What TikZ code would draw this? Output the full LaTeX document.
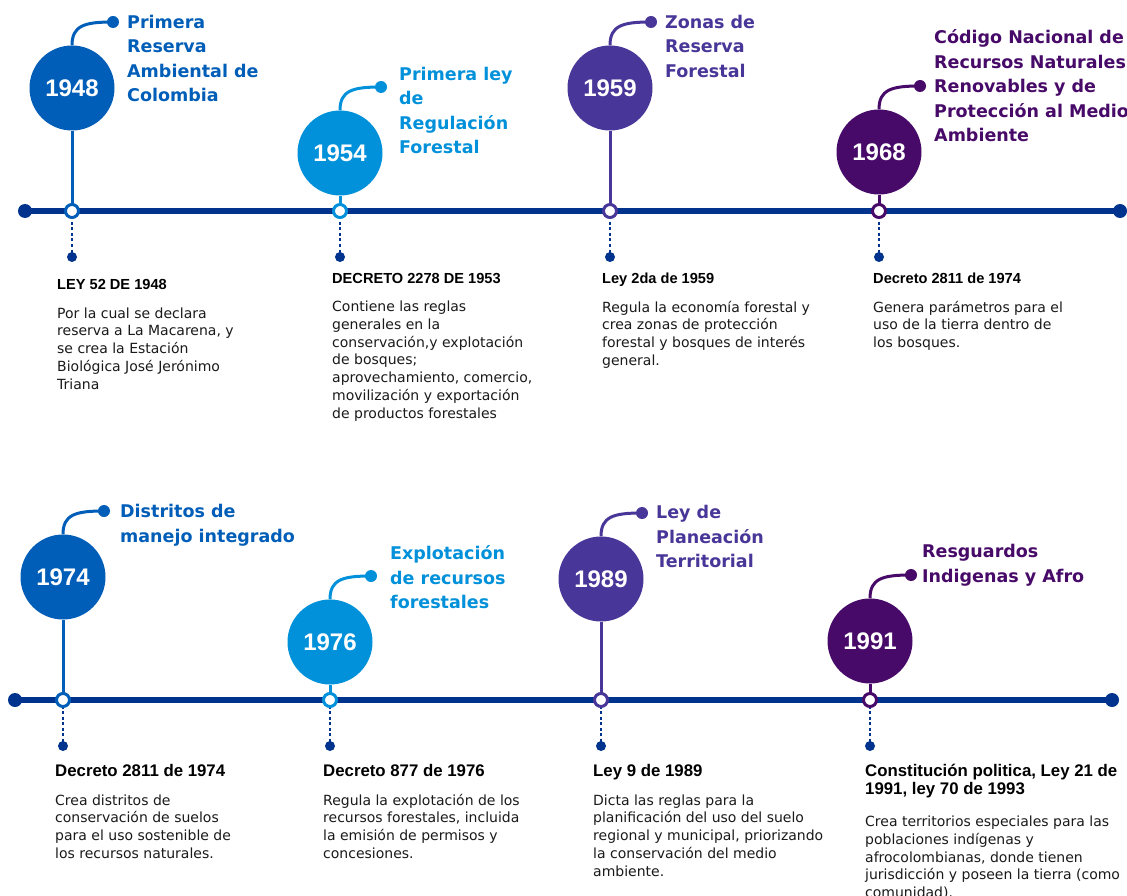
\documentclass[tikz,border=0pt]{standalone}
\usepackage{fontspec}
\setmainfont{DejaVu Sans}
\newfontfamily\arialfont{Liberation Sans}
\usetikzlibrary{backgrounds}
\definecolor{navy}{HTML}{00338D}
\definecolor{cMed}{HTML}{005EB8}
\definecolor{cLight}{HTML}{0091DA}
\definecolor{cPurple}{HTML}{483698}
\definecolor{cViolet}{HTML}{470A68}
\definecolor{txt}{HTML}{1A1A1A}
\newcommand\stack[1]{\vtop{\let\\\cr\halign{##\hfil\cr#1\crcr}}}
\tikzset{
  timeline/.style={line width=5.5pt, draw=navy},
  enddot/.style={circle, fill=navy, minimum size=14pt, inner sep=0pt},
  yearball/.style={circle, fill=#1, minimum size=85pt, inner sep=0pt, text=white, font=\arialfont\fontsize{24}{28}\selectfont\bfseries},
  stemline/.style={line width=3pt, draw=#1},
  hookline/.style={line width=3pt, draw=#1},
  hookdot/.style={circle, fill=#1, minimum size=12pt, inner sep=0pt},
  markerc/.style={circle, draw=#1, line width=3pt, fill=white, minimum size=13pt, inner sep=0pt},
  dotline/.style={line width=2.5pt, draw=navy, dash pattern=on 3pt off 2.5pt},
  smalldot/.style={circle, fill=navy, minimum size=10pt, inner sep=0pt},
  titletext/.style={anchor=base west, inner sep=0pt, text=#1, font=\fontsize{17.5}{24.5}\selectfont\bfseries},
  headtop/.style={anchor=base west, inner sep=0pt, text=black, font=\arialfont\fontsize{14.6}{18}\selectfont\bfseries},
  headbot/.style={anchor=base west, inner sep=0pt, text=black, font=\arialfont\fontsize{16.8}{18.3}\selectfont\bfseries},
  bodytext/.style={anchor=base west, inner sep=0pt, text=txt, font=\fontsize{14}{17.8}\selectfont},
}
\newcommand\tlevent[6]{%
  \node[yearball=#5] (y#1) at (#2,#3) {#6};
  \node[markerc=#5] (m#1) at (#2,#4) {};
  \node[hookdot=#5] (h#1) at ([shift={(41,-66)}]y#1.center) {};
  \node[smalldot] (d#1) at ([shift={(0,46)}]m#1.center) {};
  \begin{scope}[on background layer]
    \draw[stemline=#5] (y#1.south) -- (m#1.center);
    \draw[hookline=#5] (y#1.north) .. controls +(0,-20) and +(-28,0) .. (h#1.center);
    \draw[dotline] (m#1.center) -- (d#1.center);
  \end{scope}
}
\begin{document}
\begin{tikzpicture}[x=1pt,y=-1pt]
\begin{scope}[on background layer]
  \fill[white] (0,0) rectangle (1127,896);
\end{scope}
\useasboundingbox (0,0) rectangle (1127,896);
% timelines
\coordinate (ls1) at (25,211);
\coordinate (le1) at (1120,211);
\coordinate (ls2) at (15,700);
\coordinate (le2) at (1112,700);
\begin{scope}[on background layer]
  \draw[timeline] (ls1) -- (le1);
  \draw[timeline] (ls2) -- (le2);
\end{scope}
\node[enddot] (eds1) at (ls1) {};
\node[enddot] (ede1) at (le1) {};
\node[enddot] (eds2) at (ls2) {};
\node[enddot] (ede2) at (le2) {};
% events top
\tlevent{a}{72}{88}{211}{cMed}{1948}
\tlevent{b}{340}{153}{211}{cLight}{1954}
\tlevent{c}{610}{88}{211}{cPurple}{1959}
\tlevent{d}{879}{152}{211}{cViolet}{1968}
% events bottom
\tlevent{e}{63}{577}{700}{cMed}{1974}
\tlevent{f}{330}{642}{700}{cLight}{1976}
\tlevent{g}{601}{579}{700}{cPurple}{1989}
\tlevent{h}{870}{641}{700}{cViolet}{1991}
% titles
\node[titletext=cMed] (ta) at (127,28.5) {\stack{Primera\\Reserva\\Ambiental de\\Colombia}};
\node[titletext=cLight] (tb) at (399,80.5) {\stack{Primera ley\\de\\Regulación\\Forestal}};
\node[titletext=cPurple] (tc) at (665,28.5) {\stack{Zonas de\\Reserva\\Forestal}};
\node[titletext=cViolet] (td) at (934,44) {\stack{Código Nacional de\\Recursos Naturales\\Renovables y de\\Protección al Medio\\Ambiente}};
\node[titletext=cMed] (te) at (120,517.5) {\stack{Distritos de\\manejo integrado}};
\node[titletext=cLight] (tf) at (390,559.5) {\stack{Explotación\\de recursos\\forestales}};
\node[titletext=cPurple] (tg) at (656,518.5) {\stack{Ley de\\Planeación\\Territorial}};
\node[titletext=cViolet] (th) at (922,557.5) {\stack{Resguardos\\Indigenas y Afro}};
% headings
\node[headtop] (ka) at (57,289) {LEY 52 DE 1948};
\node[headtop] (kb) at (332,283) {DECRETO 2278 DE 1953};
\node[headtop] (kc) at (602,283.5) {Ley 2da de 1959};
\node[headtop] (kd) at (873,283.5) {Decreto 2811 de 1974};
\node[headbot] (ke) at (55,776.5) {Decreto 2811 de 1974};
\node[headbot] (kf) at (323,776.5) {Decreto 877 de 1976};
\node[headbot] (kg) at (593,776.5) {Ley 9 de 1989};
\node[headbot] (kh) at (865,776.5) {\stack{Constitución politica, Ley 21 de\\1991, ley 70 de 1993}};
% bodies
\node[bodytext] (ba) at (57,318) {\stack{Por la cual se declara\\reserva a La Macarena, y\\se crea la Estación\\Biológica José Jerónimo\\Triana}};
\node[bodytext] (bb) at (332,311.5) {\stack{Contiene las reglas\\generales en la\\conservación,y explotación\\de bosques;\\aprovechamiento, comercio,\\movilización y exportación\\de productos forestales}};
\node[bodytext] (bc) at (602,312) {\stack{Regula la economía forestal y\\crea zonas de protección\\forestal y bosques de interés\\general.}};
\node[bodytext] (bd) at (873,312) {\stack{Genera parámetros para el\\uso de la tierra dentro de\\los bosques.}};
\node[bodytext] (be) at (55,805) {\stack{Crea distritos de\\conservación de suelos\\para el uso sostenible de\\los recursos naturales.}};
\node[bodytext] (bf) at (323,805) {\stack{Regula la explotación de los\\recursos forestales, incluida\\la emisión de permisos y\\concesiones.}};
\node[bodytext] (bg) at (593,805) {\stack{Dicta las reglas para la\\planificación del uso del suelo\\regional y municipal, priorizando\\la conservación del medio\\ambiente.}};
\node[bodytext] (bh) at (865,826.5) {\stack{Crea territorios especiales para las\\poblaciones indígenas y\\afrocolombianas, donde tienen\\jurisdicción y poseen la tierra (como\\comunidad).}};
\end{tikzpicture}
\end{document}
